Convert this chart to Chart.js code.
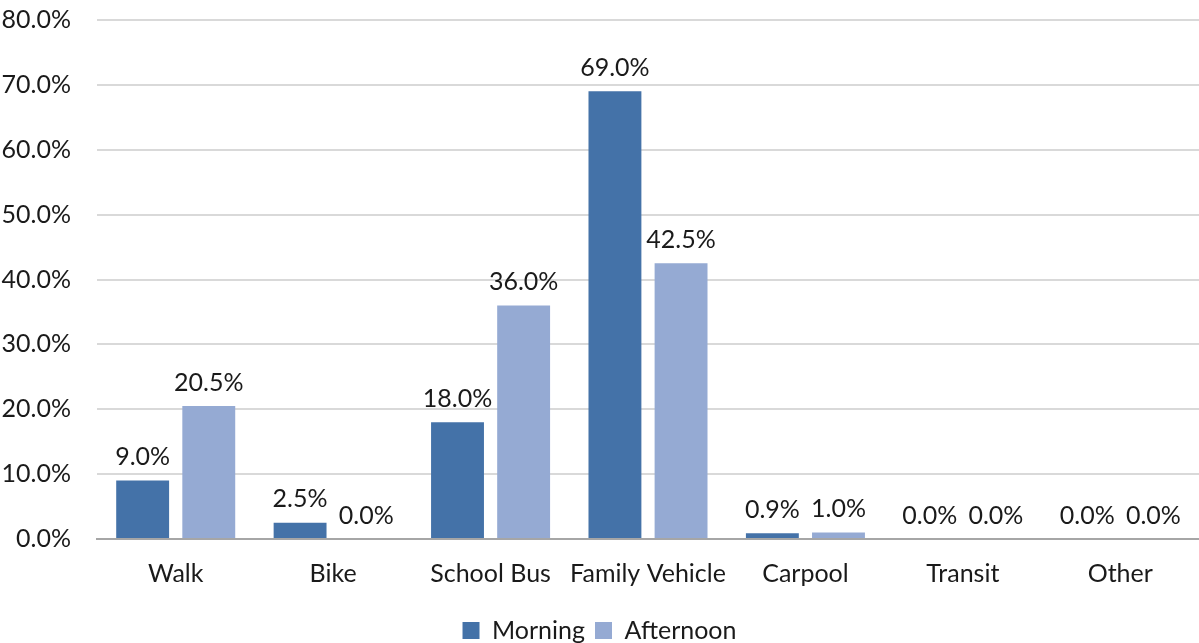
<!DOCTYPE html>
<html>
<head>
<meta charset="utf-8">
<script src="https://cdn.jsdelivr.net/npm/chart.js@4"></script>
<style>
  html, body { margin: 0; padding: 0; background: #fff; overflow: hidden; }
  #wrap { position: relative; top: -21px; width: 1199px; height: 664px; }
</style>
</head>
<body>
<div id="wrap"><canvas id="chart"></canvas></div>
<script>
'use strict';

var categories = ['Walk', 'Bike', 'School Bus', 'Family Vehicle', 'Carpool', 'Transit', 'Other'];
var morning = [9.0, 2.5, 18.0, 69.0, 0.9, 0.0, 0.0];
var afternoon = [20.5, 0.0, 36.0, 42.5, 1.0, 0.0, 0.0];
var seriesNames = ['Morning', 'Afternoon'];

var FONT = 'Lato, "Open Sans", sans-serif';
var SIZE = 25;

// draws the value above each bar
var valueLabels = {
  id: 'valueLabels',
  afterDatasetsDraw: function(chart) {
    var ctx = chart.ctx;
    ctx.save();
    ctx.font = SIZE + 'px ' + FONT;
    ctx.fillStyle = '#1a1a1a';
    ctx.textAlign = 'center';
    ctx.textBaseline = 'bottom';
    chart.data.datasets.forEach(function(ds, i) {
      var meta = chart.getDatasetMeta(i);
      meta.data.forEach(function(bar, j) {
        ctx.fillText(ds.data[j].toFixed(1) + '%', bar.x, bar.y - 11);
      });
    });
    ctx.restore();
  }
};

var ctx = document.getElementById('chart');

new Chart(ctx, {
  type: 'bar',
  data: {
    labels: categories,
    datasets: [
      { label: seriesNames[0], data: morning, backgroundColor: '#4472a8' },
      { label: seriesNames[1], data: afternoon, backgroundColor: '#95aad3' }
    ]
  },
  options: {
    responsive: true,
    maintainAspectRatio: false,
    animation: false,
    datasets: { bar: { categoryPercentage: 0.84, barPercentage: 0.8 } },
    layout: { padding: { top: 0, right: 0, left: 0, bottom: -10 } },
    plugins: {
      tooltip: { enabled: false },
      legend: {
        position: 'bottom',
        labels: {
          color: '#1a1a1a',
          font: { family: FONT, size: SIZE },
          boxWidth: 17,
          boxHeight: 17,
          padding: 10
        }
      }
    },
    scales: {
      x: {
        afterFit: function(axis) { axis.height += 7; },
        grid: { display: false },
        border: { color: '#a6a6a6', width: 2 },
        ticks: {
          color: '#1a1a1a',
          font: { family: FONT, size: SIZE },
          padding: 12,
          maxRotation: 0,
          autoSkip: false
        }
      },
      y: {
        min: 0,
        max: 80,
        afterFit: function(axis) { axis.width = 97; },
        grid: { color: '#d9d9d9', lineWidth: 2, drawTicks: false },
        border: { display: false },
        ticks: {
          stepSize: 10,
          color: '#1a1a1a',
          padding: 26,
          font: { family: FONT, size: SIZE },
          callback: function(v) { return v.toFixed(1) + '%'; }
        }
      }
    }
  },
  plugins: [valueLabels]
});
</script>
</body>
</html>
